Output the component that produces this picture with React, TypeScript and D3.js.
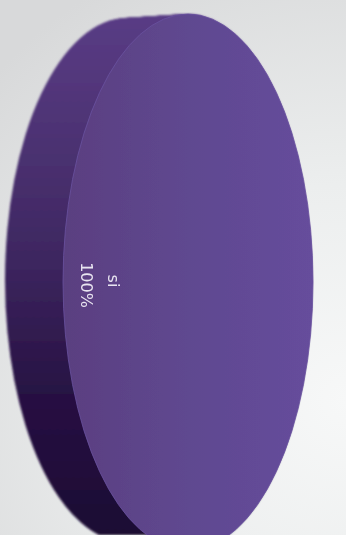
import React from "react";
import * as d3 from "d3";

const categories = ["si"];
const seriesValues = [100];
const labels = ["100%"];

const W = 346, H = 535;

export default function App() {
  const slices = d3.pie<number>().sort(null)(seriesValues);
  const arc = d3.arc<d3.PieArcDatum<number>>().innerRadius(0).outerRadius(1);
  const d = arc(slices[0]) as string;
  const cx = d3.scaleLinear().domain([0, 1]).range([188, 127]);
  const cy = d3.scaleLinear().domain([0, 1]).range([282, 280]);
  const rx = d3.scaleLinear().domain([0, 1]).range([125, 122]);
  const ry = d3.scaleLinear().domain([0, 1]).range([268, 262]);
  const depth = d3.range(60, 0, -1).map((i) => i / 60);
  return (
    <svg width={W} height={H} viewBox={`0 0 ${W} ${H}`} style={{ position: "fixed", left: 0, top: 0, display: "block" }}>
      <defs>
        <radialGradient id="bg" gradientUnits="userSpaceOnUse" cx={346} cy={400} r={480}>
          <stop offset="0" stopColor="#f7f8f8" />
          <stop offset="0.45" stopColor="#eceeee" />
          <stop offset="1" stopColor="#d8d9da" />
        </radialGradient>
        <linearGradient id="side" gradientUnits="userSpaceOnUse" x1="0" y1="15" x2="0" y2="535">
          <stop offset="0" stopColor="#593c85" />
          <stop offset="0.2" stopColor="#4f3476" />
          <stop offset="0.45" stopColor="#3f2862" />
          <stop offset="0.72" stopColor="#281244" />
          <stop offset="1" stopColor="#1c0733" />
        </linearGradient>
        <linearGradient id="face" x1="0" y1="0" x2="1" y2="0">
          <stop offset="0" stopColor="#5a3f80" />
          <stop offset="0.5" stopColor="#5f4890" />
          <stop offset="1" stopColor="#664d9c" />
        </linearGradient>
        <linearGradient id="leader" gradientUnits="userSpaceOnUse" x1={222} y1={0} x2={342} y2={0}>
          <stop offset="0" stopColor="#8d7fb5" stopOpacity={0.35} />
          <stop offset="0.7" stopColor="#b0a6d2" stopOpacity={0.8} />
          <stop offset="1" stopColor="#c4c2d0" />
        </linearGradient>
        <filter id="soft" x="-5%" y="-5%" width="110%" height="110%">
          <feGaussianBlur stdDeviation="0.8" />
        </filter>
        <filter id="softer" x="-20%" y="-20%" width="140%" height="140%">
          <feGaussianBlur stdDeviation="0.35" />
        </filter>
        <clipPath id="sideClip">
          {depth.map((t) => (
            <path key={t} d={d} transform={`translate(${cx(t)},${cy(t)}) scale(${rx(t)},${ry(t)})`} />
          ))}
        </clipPath>
      </defs>
      <rect width={W} height={H} fill="url(#bg)" />
      <g filter="url(#soft)">
        <rect width={W} height={H} fill="url(#side)" clipPath="url(#sideClip)" />
      </g>
      {slices.map((s, i) => (
        <g key={categories[i]} filter="url(#softer)">
          <path d={arc(s) as string} fill="url(#face)" stroke="#6a52a0" strokeWidth={0.8} vectorEffect="non-scaling-stroke" transform={`translate(${cx(0)},${cy(0)}) scale(${rx(0)},${ry(0)})`} />
        </g>
      ))}
      <line x1={222} x2={342} y1={280.5} y2={280.5} stroke="url(#leader)" strokeWidth={1.6} filter="url(#softer)" />
      <g fontFamily="DejaVu Sans" fontSize={16} fill="#e8e4f0" textAnchor="middle" filter="url(#softer)">
        <text transform="translate(108,281) rotate(90)">{categories[0]}</text>
        <text transform="translate(81,285) rotate(90)">{labels[0]}</text>
      </g>
    </svg>
  );
}
